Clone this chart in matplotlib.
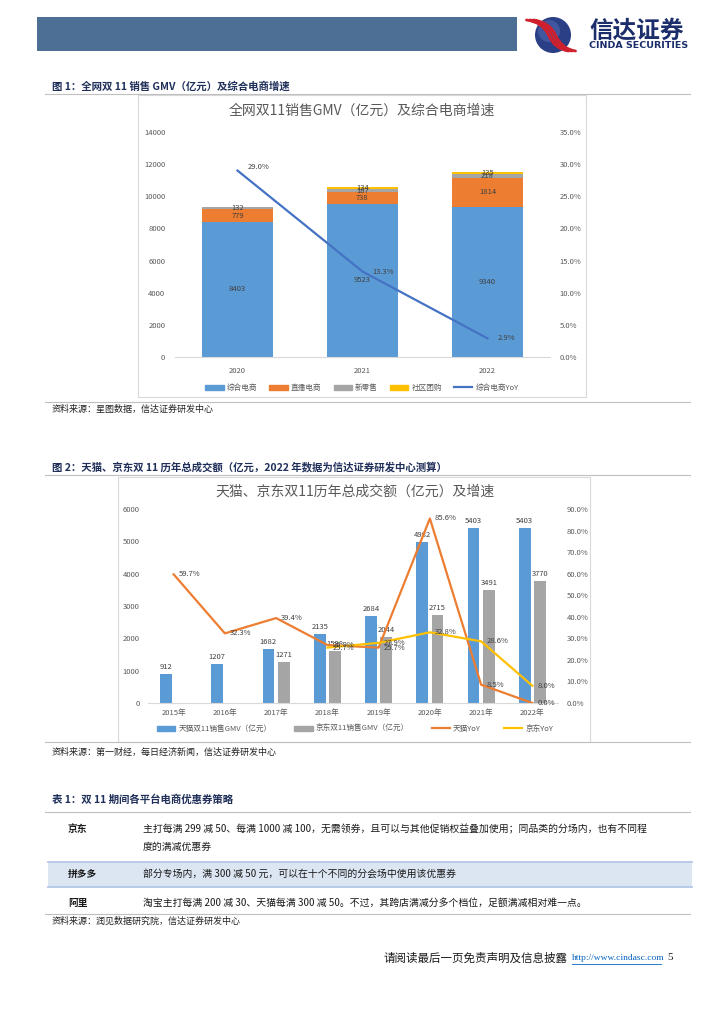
import matplotlib
matplotlib.use('Agg')
import matplotlib.pyplot as plt
import numpy as np
from matplotlib.patches import Rectangle, Circle, PathPatch, Patch
from matplotlib.path import Path
from matplotlib.lines import Line2D

plt.rcParams['font.family'] = ['Noto Sans CJK SC', 'DejaVu Sans']

W, H = 724, 1024

# ---- chart 1 data ----
years1 = ['2020', '2021', '2022']
zonghe = [8403, 9523, 9340]
zhibo = [779, 738, 1814]
xinlingshou = [132, 187, 218]
shequ = [0, 134, 135]
zonghe_yoy = [0.290, 0.133, 0.029]
names1 = ['综合电商', '直播电商', '新零售', '社区团购', '综合电商YoY']

# ---- chart 2 data ----
years2 = ['2015年', '2016年', '2017年', '2018年', '2019年', '2020年', '2021年', '2022年']
tmall_gmv = [912, 1207, 1682, 2135, 2684, 4982, 5403, 5403]
jd_gmv = [np.nan, np.nan, 1271, 1598, 2044, 2715, 3491, 3770]
tmall_yoy = [0.597, 0.323, 0.394, 0.269, 0.257, 0.856, 0.085, 0.0]
jd_yoy = [np.nan, np.nan, np.nan, 0.257, 0.279, 0.328, 0.286, 0.080]
names2 = ['天猫双11销售GMV（亿元）', '京东双11销售GMV（亿元）', '天猫YoY', '京东YoY']

# ---- table data ----
platforms = ['京东', '拼多多', '阿里']
strategies = [
    ['主打每满 299 减 50、每满 1000 减 100，无需领券，且可以与其他促销权益叠加使用；同品类的分场内，也有不同程',
     '度的满减优惠券'],
    ['部分专场内，满 300 减 50 元，可以在十个不同的分会场中使用该优惠券'],
    ['淘宝主打每满 200 减 30、天猫每满 300 减 50。不过，其跨店满减分多个档位，足额满减相对难一点。'],
]

BLUE, ORANGE, GRAY, YELLOW, LINEBLUE = '#5B9BD5', '#ED7D31', '#A5A5A5', '#FFC000', '#4472C4'
TXT = '#595959'
NAVY = '#1F2F5A'


def rect(x0, y0, x1, y1):
    return [x0 / W, 1 - y1 / H, (x1 - x0) / W, (y1 - y0) / H]


fig = plt.figure(figsize=(7.24, 10.24), dpi=100)
page = fig.add_axes([0, 0, 1, 1])
page.set_xlim(0, W)
page.set_ylim(H, 0)
page.axis('off')

# header band and logo
page.add_patch(Rectangle((37, 17), 480, 34, color='#4D6F96', lw=0))
page.add_patch(Circle((553, 35), 18, color='#2B3F86', lw=0))
page.add_patch(Circle((549, 31), 11, color='#4F67B0', lw=0, alpha=0.6))
for off in (-3.5, 0, 3.5):
    verts = [(530 + off, 20), (546 + off, 22), (552 + off, 35), (558 + off, 49), (572 + off, 51)]
    codes = [Path.MOVETO, Path.CURVE3, Path.CURVE3, Path.CURVE3, Path.CURVE3]
    page.add_patch(PathPatch(Path(verts, codes), fill=False, ec='#D0202E', lw=2.0, capstyle='round'))
page.text(589, 31, '信达证券', fontsize=17, weight='bold', color='#1B2E6B', va='center')
page.text(589, 45.5, 'CINDA SECURITIES', fontsize=6.8, weight='bold', color='#1B2E6B', va='center',
          family='DejaVu Sans')

# ---- figure 1 ----
page.text(52, 87, '图 1：全网双 11 销售 GMV（亿元）及综合电商增速', fontsize=7.5, weight='bold',
          color=NAVY, va='center')
page.plot([45, 690], [94, 94], color='#BFBFBF', lw=0.8)
page.add_patch(Rectangle((138, 95), 448, 302, fill=False, ec='#D9D9D9', lw=0.8))
page.text(362, 111, '全网双11销售GMV（亿元）及综合电商增速', fontsize=10, color=TXT,
          ha='center', va='center')
page.plot([45, 690], [402, 402], color='#BFBFBF', lw=0.8)
page.text(52, 409, '资料来源：星图数据，信达证券研发中心', fontsize=6.5, style='italic',
          color='#222222', va='center')

ax1 = fig.add_axes(rect(175, 132, 550, 357))
x1 = np.arange(len(years1))
bottom = np.zeros(len(years1))
for vals, c in zip([zonghe, zhibo, xinlingshou, shequ], [BLUE, ORANGE, GRAY, YELLOW]):
    vals = np.array(vals, dtype=float)
    ax1.bar(x1, vals, 0.575, bottom=bottom, color=c, zorder=2)
    for xi, b, v in zip(x1, bottom, vals):
        if v > 0:
            ax1.text(xi, b + v / 2, f'{int(v)}', ha='center', va='center', fontsize=5.5,
                     color='#404040', zorder=4)
    bottom += vals
ax1.set_xlim(-0.5, 2.5)
ax1.set_ylim(0, 14000)
ax1.set_yticks(np.arange(0, 14001, 2000))
ax1.set_xticks(x1)
ax1.set_xticklabels(years1)
for s in ['top', 'left', 'right']:
    ax1.spines[s].set_visible(False)
ax1.spines['bottom'].set_color('#D9D9D9')
ax1.tick_params(length=0, labelsize=5.5, colors=TXT)
ax1.tick_params(axis='y', pad=7)
ax1.tick_params(axis='x', pad=7)

ax1b = ax1.twinx()
ax1b.plot(x1, zonghe_yoy, color=LINEBLUE, lw=1.6, zorder=3)
for xi, v in zip(x1, zonghe_yoy):
    ax1b.text(xi + 0.08, v, f'{v:.1%}', ha='left', va='bottom' if xi == 0 else 'center',
              fontsize=5.5, color='#404040')
ax1b.set_ylim(0, 0.35)
ax1b.set_yticks(np.arange(0, 0.351, 0.05))
ax1b.set_yticklabels([f'{t:.1%}' for t in np.arange(0, 0.351, 0.05)])
for s in ['top', 'left', 'right', 'bottom']:
    ax1b.spines[s].set_visible(False)
ax1b.tick_params(length=0, labelsize=5.5, colors=TXT, pad=7)

h1 = [Patch(color=c) for c in [BLUE, ORANGE, GRAY, YELLOW]] + [Line2D([], [], color=LINEBLUE, lw=1.6)]
leg1 = fig.legend(h1, names1, loc='center', bbox_to_anchor=(362 / W, 1 - 388 / H), ncol=5,
                  frameon=False, fontsize=5.5, handlelength=2.4, handleheight=0.6, columnspacing=1.6,
                  handletextpad=0.4)
for t in leg1.get_texts():
    t.set_color(TXT)

# ---- figure 2 ----
page.text(52, 467, '图 2：天猫、京东双 11 历年总成交额（亿元，2022 年数据为信达证券研发中心测算）',
          fontsize=7.5, weight='bold', color=NAVY, va='center')
page.plot([45, 690], [475, 475], color='#BFBFBF', lw=0.8)
page.add_patch(Rectangle((118, 477), 472, 265, fill=False, ec='#D9D9D9', lw=0.8))
page.text(355, 492, '天猫、京东双11历年总成交额（亿元）及增速', fontsize=10, color=TXT,
          ha='center', va='center')
page.plot([45, 690], [742, 742], color='#BFBFBF', lw=0.8)
page.text(52, 752, '资料来源：第一财经，每日经济新闻，信达证券研发中心', fontsize=6.5, style='italic',
          color='#222222', va='center')

ax2 = fig.add_axes(rect(148, 509, 558, 703))
x2 = np.arange(len(years2))
bw = 0.23
ax2.bar(x2 - 0.15, tmall_gmv, bw, color=BLUE, zorder=2)
ax2.bar(x2 + 0.15, jd_gmv, bw, color=GRAY, zorder=2)
for xi, v in zip(x2, tmall_gmv):
    ax2.text(xi - 0.15, v + 90, f'{v}', ha='center', va='bottom', fontsize=5.5, color='#404040')
for xi, v in zip(x2, jd_gmv):
    if not np.isnan(v):
        ax2.text(xi + 0.15, v + 90, f'{int(v)}', ha='center', va='bottom', fontsize=5.5, color='#404040')
ax2.set_xlim(-0.5, 7.5)
ax2.set_ylim(0, 6000)
ax2.set_yticks(np.arange(0, 6001, 1000))
ax2.set_xticks(x2)
ax2.set_xticklabels(years2)
for s in ['top', 'left', 'right']:
    ax2.spines[s].set_visible(False)
ax2.spines['bottom'].set_color('#D9D9D9')
ax2.tick_params(length=0, labelsize=5.5, colors=TXT)
ax2.tick_params(axis='y', pad=6)
ax2.tick_params(axis='x', pad=4)

ax2b = ax2.twinx()
ax2b.plot(x2, tmall_yoy, color=ORANGE, lw=1.6, zorder=3)
ax2b.plot(x2, jd_yoy, color=YELLOW, lw=1.6, zorder=3)
for xi, v in zip(x2, tmall_yoy):
    ax2b.text(xi + 0.1, v, f'{v:.1%}', ha='left', va='center', fontsize=5.5, color='#404040')
for xi, v in zip(x2, jd_yoy):
    if not np.isnan(v):
        ax2b.text(xi + 0.1, v, f'{v:.1%}', ha='left', va='center', fontsize=5.5, color='#404040')
ax2b.set_ylim(0, 0.9)
ax2b.set_yticks(np.arange(0, 0.901, 0.1))
ax2b.set_yticklabels([f'{t:.1%}' for t in np.arange(0, 0.901, 0.1)])
for s in ['top', 'left', 'right', 'bottom']:
    ax2b.spines[s].set_visible(False)
ax2b.tick_params(length=0, labelsize=5.5, colors=TXT, pad=6)

h2 = [Patch(color=BLUE), Patch(color=GRAY), Line2D([], [], color=ORANGE, lw=1.6),
      Line2D([], [], color=YELLOW, lw=1.6)]
leg2 = fig.legend(h2, names2, loc='center', bbox_to_anchor=(355 / W, 1 - 729 / H), ncol=4,
                  frameon=False, fontsize=5.5, handlelength=2.4, handleheight=0.6, columnspacing=3.0,
                  handletextpad=0.4)
for t in leg2.get_texts():
    t.set_color(TXT)

# ---- table 1 ----
page.text(52, 800, '表 1：双 11 期间各平台电商优惠券策略', fontsize=7.5, weight='bold', color=NAVY,
          va='center')
page.plot([45, 690], [812, 812], color='#BFBFBF', lw=0.8)
page.add_patch(Rectangle((48, 862), 644, 25, color='#DCE6F2', lw=0))
page.plot([48, 692], [862, 862], color='#B4C7E7', lw=1.3)
page.plot([48, 692], [887, 887], color='#B4C7E7', lw=1.3)
page.plot([45, 690], [914, 914], color='#BFBFBF', lw=0.8)
row_y = [829, 874, 903]
for name, lines, y in zip(platforms, strategies, row_y):
    page.text(68, y, name, fontsize=7, weight='bold', color='#1A1A1A', va='center')
    for k, ln in enumerate(lines):
        page.text(143, y + 18 * k, ln, fontsize=7.1, color='#1A1A1A', va='center')
page.text(52, 921, '资料来源：润见数据研究院，信达证券研发中心', fontsize=6.5, style='italic',
          color='#222222', va='center')

# ---- footer ----
page.text(383, 958, '请阅读最后一页免责声明及信息披露', fontsize=8.3, color='#1A1A1A', va='center')
page.text(572, 958, 'http://www.cindasc.com', fontsize=6.8, color='#0563C1', va='center',
          family='Liberation Serif')
page.plot([572, 661], [964, 964], color='#0563C1', lw=0.6)
page.text(667, 958, '5', fontsize=8, color='#1A1A1A', va='center', family='Liberation Serif')

fig.savefig('out.png', dpi=100)
